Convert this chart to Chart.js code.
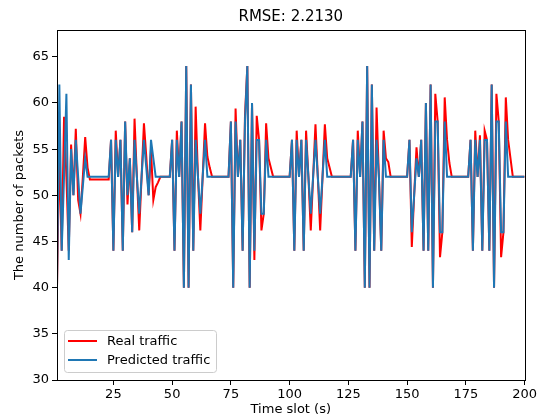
<!DOCTYPE html>
<html>
<head>
<meta charset="utf-8">
<script src="https://cdn.jsdelivr.net/npm/chart.js@4.4.0/dist/chart.umd.min.js"></script>
<style>
html, body { margin: 0; padding: 0; background: #fff; }
</style>
</head>
<body>
<canvas id="myChart" width="539" height="419"></canvas>
<script>
const titleText = 'RMSE: 2.2130';
const xLabel = 'Time slot (s)';
const yLabel = 'The number of packets';
const seriesNames = ['Real traffic', 'Predicted traffic'];
const xTicks = [25, 50, 75, 100, 125, 150, 175, 200];
const yTicks = [30, 35, 40, 45, 50, 55, 60, 65];

// time slots 1..200
const timeSlots = [];
for (let i = 1; i <= 200; i++) timeSlots.push(i);

const realTraffic = [
    40, 55, 44, 58.5, 52, 44, 55.5, 50, 57.2, 49.5, 48, 52, 56.3, 53,
    51.7, 51.7, 51.7, 51.7, 51.7, 51.7, 51.7, 51.7, 51.7,
    56, 44, 57, 52, 56, 44, 58, 49, 54, 46, 58.3, 52, 46.2, 52, 57.8, 54.2, 50, 55, 49.5, 50.9, 51.4,
    52, 52, 52, 52, 52,
    56, 44, 57, 52, 58, 40, 64, 40, 62, 44, 59.6, 52, 46.2, 52, 57.8, 54.2, 53,
    52, 52, 52, 52, 52, 52, 52, 52,
    58, 40, 59.4, 52, 56, 44, 58.6, 64, 40, 60, 43, 58.6, 56, 46.2, 48, 57.8, 54, 53,
    52, 52, 52, 52, 52, 52, 52, 52,
    56, 44, 57, 52, 56, 44, 57, 52, 46.2, 52, 57.7, 52, 46.2, 52, 57.7, 54, 53,
    52, 52, 52, 52, 52, 52, 52, 52, 52,
    56, 44, 57, 52, 58, 40, 64, 40, 62, 44, 59.5, 52, 44, 57, 54, 53.6,
    52, 52, 52, 52, 52, 52, 52, 52,
    56, 44.4, 50, 55.2, 52, 56, 44, 60, 44, 62, 40, 61, 58, 43.3, 46, 60.6, 56, 53.5,
    52, 52, 52, 52, 52, 52, 52, 52,
    56, 44, 57, 52, 56.5, 44, 57, 56, 44, 62, 40, 61, 58, 43.3, 46, 60.6, 56, 54,
    52, 52, 52, 52, 52, 52
];

const predictedTraffic = [
    40, 62, 44, 52, 61, 43, 55, 50, 56, 52, 48, 51, 54, 52,
    52, 52, 52, 52, 52, 52, 52, 52, 52,
    56, 44, 56, 52, 56, 44, 58, 50, 54, 46, 56, 52, 48, 52, 56, 53, 50, 56, 54, 52, 52,
    52, 52, 52, 52, 52,
    56, 44, 56, 52, 58, 40, 64, 40, 62, 44, 56, 52, 48, 52, 56, 52, 52,
    52, 52, 52, 52, 52, 52, 52, 52,
    58, 40, 58, 52, 56, 44, 58, 64, 40, 60, 44, 56, 56, 48, 48, 56, 52, 52,
    52, 52, 52, 52, 52, 52, 52, 52,
    56, 44, 56, 52, 56, 44, 56, 52, 48, 52, 56, 52, 48, 52, 56, 52, 52,
    52, 52, 52, 52, 52, 52, 52, 52, 52,
    56, 44, 56, 52, 58, 40, 64, 40, 62, 44, 56, 52, 44, 56, 52, 52,
    52, 52, 52, 52, 52, 52, 52, 52,
    56, 46, 50, 54, 52, 56, 44, 60, 44, 62, 40, 58, 58, 46, 46, 58, 52, 52,
    52, 52, 52, 52, 52, 52, 52, 52,
    56, 44, 56, 52, 56, 44, 56, 56, 44, 62, 40, 58, 58, 46, 46, 58, 52, 52,
    52, 52, 52, 52, 52, 52
];

const colors = ['#ff0000', '#1f77b4'];
const fontName = '"DejaVu Sans", sans-serif';

// frame, title and legend drawn by hand (matplotlib look)
const extras = {
    id: 'extras',
    afterDraw(chart) {
        const c = chart.ctx;
        const a = chart.chartArea;
        c.save();
        c.strokeStyle = '#000';
        c.lineWidth = 1;
        c.strokeRect(Math.round(a.left) + 0.5, Math.round(a.top) + 0.5,
            Math.round(a.right - a.left), Math.round(a.bottom - a.top));

        c.fillStyle = '#000';
        c.font = '15px ' + fontName;
        c.textAlign = 'center';
        c.textBaseline = 'middle';
        c.fillText(titleText, (a.left + a.right) / 2, 17);

        // legend box
        const bx = 64.5, by = 330.5, bw = 152, bh = 42, r = 3;
        c.beginPath();
        c.moveTo(bx + r, by);
        c.lineTo(bx + bw - r, by);
        c.quadraticCurveTo(bx + bw, by, bx + bw, by + r);
        c.lineTo(bx + bw, by + bh - r);
        c.quadraticCurveTo(bx + bw, by + bh, bx + bw - r, by + bh);
        c.lineTo(bx + r, by + bh);
        c.quadraticCurveTo(bx, by + bh, bx, by + bh - r);
        c.lineTo(bx, by + r);
        c.quadraticCurveTo(bx, by, bx + r, by);
        c.closePath();
        c.fillStyle = 'rgba(255,255,255,0.8)';
        c.fill();
        c.strokeStyle = '#cccccc';
        c.stroke();

        c.font = '13px ' + fontName;
        c.textAlign = 'left';
        const rows = [341, 360];
        for (let i = 0; i < 2; i++) {
            c.strokeStyle = colors[i];
            c.lineWidth = 2;
            c.beginPath();
            c.moveTo(68, rows[i]);
            c.lineTo(97, rows[i]);
            c.stroke();
            c.fillStyle = '#000';
            c.fillText(seriesNames[i], 107, rows[i] + 1);
        }
        c.restore();
    }
};

const ctx = document.getElementById('myChart').getContext('2d');
const myChart = new Chart(ctx, {
    type: 'line',
    data: {
        datasets: [{
            label: seriesNames[0],
            data: timeSlots.map((t, i) => ({ x: t, y: realTraffic[i] })),
            borderColor: colors[0],
            borderWidth: 2,
            pointRadius: 0,
            tension: 0,
            order: 2
        }, {
            label: seriesNames[1],
            data: timeSlots.map((t, i) => ({ x: t, y: predictedTraffic[i] })),
            borderColor: colors[1],
            borderWidth: 2,
            pointRadius: 0,
            tension: 0,
            order: 1
        }]
    },
    options: {
        responsive: false,
        animation: false,
        devicePixelRatio: 1,
        layout: { padding: { top: 30, right: 12, left: 0, bottom: 0 } },
        plugins: {
            legend: { display: false },
            tooltip: { enabled: false }
        },
        scales: {
            x: {
                type: 'linear',
                min: 1,
                max: 200,
                afterBuildTicks: (s) => { s.ticks = xTicks.map(v => ({ value: v })); },
                afterFit: (s) => { s.height = 39; },
                grid: { drawOnChartArea: false, drawTicks: true, tickLength: 5, color: '#000' },
                border: { display: true, color: '#000' },
                ticks: { color: '#000', font: { family: fontName, size: 13 }, padding: 2, maxRotation: 0 },
                title: { display: true, text: xLabel, color: '#000', font: { family: fontName, size: 13 }, padding: { top: 0, bottom: 2 } }
            },
            y: {
                min: 30,
                max: 67.9,
                afterBuildTicks: (s) => { s.ticks = yTicks.map(v => ({ value: v })); },
                afterFit: (s) => { s.width = 57; },
                grid: { drawOnChartArea: false, drawTicks: true, tickLength: 5, color: '#000' },
                border: { display: true, color: '#000' },
                ticks: { color: '#000', font: { family: fontName, size: 13 }, padding: 3 },
                title: { display: true, text: yLabel, color: '#000', font: { family: fontName, size: 13 }, padding: { top: 12, bottom: 0 } }
            }
        }
    },
    plugins: [extras]
});
</script>
</body>
</html>
